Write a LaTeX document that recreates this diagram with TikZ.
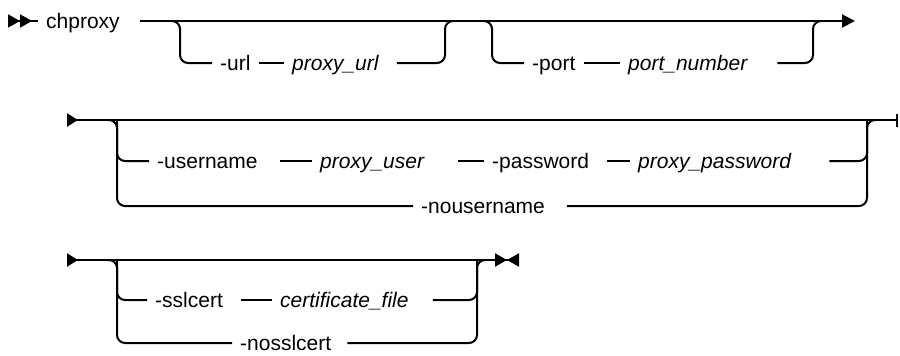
\documentclass[tikz,border=0pt]{standalone}
\usepackage{fontspec}
\setmainfont{Liberation Sans}
\usetikzlibrary{arrows.meta}

\begin{document}
\begin{tikzpicture}[
    x=1pt, y=-1pt,
    kw/.style={anchor=west, font=\fontsize{21}{25}\selectfont, text height=15pt, text depth=0pt, inner xsep=8pt, inner ysep=0pt},
    var/.style={kw, font=\fontsize{21}{25}\selectfont\itshape},
    rail/.style={line width=2pt, rounded corners=8pt},
    startmark/.style={rail, {Triangle[reversed, length=12pt, width=13pt] Triangle[reversed, length=12pt, width=13pt]}-},
    contin/.style={rail, {Triangle[reversed, length=11pt, width=13pt]}-},
    tonext/.style={rail, -{Triangle[length=13pt, width=13pt]}},
    tobar/.style={rail, -{Bar[width=13pt, line width=2pt]}},
    tostop/.style={rail, -{Triangle[length=12pt, width=13pt, sep=0pt] Triangle[reversed, length=12pt, width=13pt]}},
]
\useasboundingbox (0,0) rectangle (900,356);

\coordinate (begin) at (8,21);
\node[kw] (cmd) at (38,21) {chproxy};
\node[kw] (url) at (212,63) {-url};
\node[var] (urlv) at (284,63) {proxy\_url};
\node[kw] (port) at (524,63) {-port};
\node[var] (portv) at (620,63) {port\_number};
\coordinate (b1l) at (180,21);
\coordinate (b1r) at (445,21);
\coordinate (b2l) at (492,21);
\coordinate (b2r) at (813,21);
\coordinate (end1) at (855,21);

\draw[startmark] (begin) -- (cmd.west);
\draw[tonext] ([xshift=12pt]cmd.east) -- (end1);
\draw[rail] ([xshift=-10pt]b1l) -- (b1l) |- (url.west);
\draw[rail] (url.east) -- (urlv.west);
\draw[rail] ([xshift=10pt]urlv.east) -| (b1r) -- ([xshift=10pt]b1r);
\draw[rail] ([xshift=-10pt]b2l) -- (b2l) |- (port.west);
\draw[rail] (port.east) -- (portv.west);
\draw[rail] ([xshift=22pt]portv.east) -| (b2r) -- ([xshift=10pt]b2r);

\coordinate (start2) at (67,120);
\node[kw] (user) at (149,161) {-username};
\node[var] (userv) at (312,161) {proxy\_user};
\node[kw] (pass) at (484,161) {-password};
\node[var] (passv) at (630,161) {proxy\_password};
\node[kw] (nouser) at (413,206) {-nousername};
\coordinate (b3l) at (117,120);
\coordinate (b3r) at (867,120);
\coordinate (end2) at (898,120);

\draw[contin] (start2) -- (b3l);
\draw[tobar] (b3l) -- (end2);
\draw[rail] ([xshift=-10pt]b3l) -- (b3l) |- (nouser.west);
\draw[rail] (b3l) |- (user.west);
\draw[rail] ([xshift=14pt]user.east) -- (userv.west);
\draw[rail] ([xshift=26pt]userv.east) -- (pass.west);
\draw[rail] ([xshift=10pt]pass.east) -- (passv.west);
\draw[rail] ([xshift=30pt]passv.east) -| (b3r) -- ([xshift=10pt]b3r);
\draw[rail] ([xshift=14pt]nouser.east) -| (b3r);

\coordinate (start3) at (67,260);
\node[kw] (ssl) at (147,300) {-sslcert};
\node[var] (sslv) at (272,300) {certificate\_file};
\node[kw] (nossl) at (232,343) {-nosslcert};
\coordinate (b4l) at (117,260);
\coordinate (b4r) at (477,260);
\coordinate (end3) at (519,260);

\draw[contin] (start3) -- (b4l);
\draw[tostop] (b4l) -- (end3);
\draw[rail] ([xshift=-10pt]b4l) -- (b4l) |- (nossl.west);
\draw[rail] (b4l) |- (ssl.west);
\draw[rail] ([xshift=10pt]ssl.east) -- (sslv.west);
\draw[rail] ([xshift=16pt]sslv.east) -| (b4r) -- ([xshift=10pt]b4r);
\draw[rail] ([xshift=8pt]nossl.east) -| (b4r);
\end{tikzpicture}
\end{document}
